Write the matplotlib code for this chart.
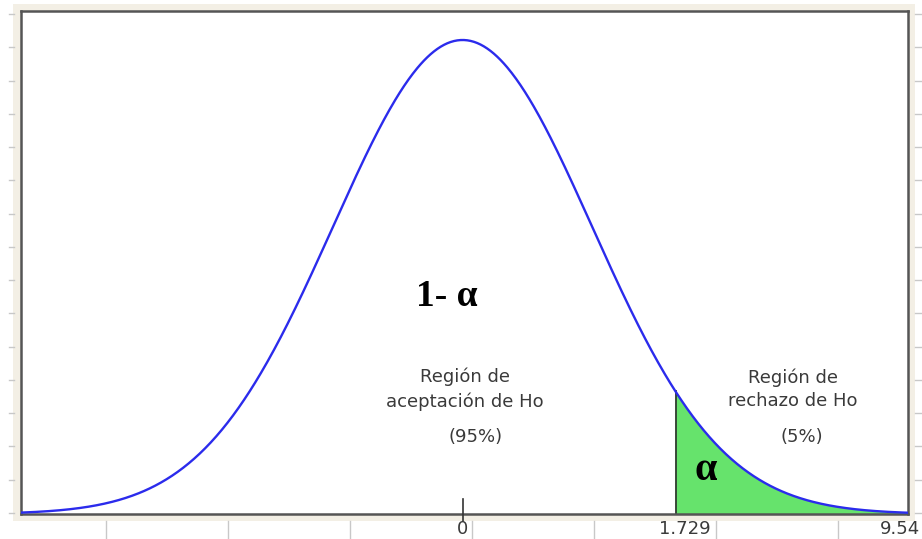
import numpy as np
import matplotlib
matplotlib.use("Agg")
import matplotlib.pyplot as plt
from matplotlib.patches import Rectangle
from matplotlib.lines import Line2D

# ---- data ----
dist_mean = 0.0
dist_sd = 1.0
critical_z = 1.645          # upper 5% point (drawn position of the critical line)
x_range = [-3.41, 3.44]
axis_labels = ["0", "1.729", "9.54"]
region_labels = ["Región de\naceptación de Ho", "(95%)", "Región de\nrechazo de Ho", "(5%)"]
big_labels = ["1- α", "α"]

W, H = 922, 539
fig = plt.figure(figsize=(W / 100, H / 100), dpi=100)
fig.patch.set_facecolor("white")

def fx(px):
    return px / W

def fy(py):
    return 1 - py / H

# beige panel behind plot
fig.add_artist(Rectangle((fx(13), fy(521)), (915 - 13) / W, (521 - 4) / H,
                         transform=fig.transFigure, facecolor="#f3efe5",
                         edgecolor="none", zorder=0))

ax = fig.add_axes([fx(21), fy(514), (908 - 21) / W, (514 - 11) / H])
ax.set_facecolor("white")

x = np.linspace(x_range[0], x_range[1], 800)
pdf = np.exp(-0.5 * ((x - dist_mean) / dist_sd) ** 2) / (dist_sd * np.sqrt(2 * np.pi))
peak = 1 / (dist_sd * np.sqrt(2 * np.pi))

mask = x >= critical_z
ax.fill_between(x[mask], 0, pdf[mask], color="#66e36c", linewidth=0, zorder=1)
ycrit = np.exp(-0.5 * ((critical_z - dist_mean) / dist_sd) ** 2) / (dist_sd * np.sqrt(2 * np.pi))
ax.plot([critical_z, critical_z], [0, ycrit], color="#2a3a2a", lw=1.3, zorder=2)
ax.plot(x, pdf, color="#2b2bec", lw=1.7, zorder=3)

ax.set_xlim(x_range)
ax.set_ylim(0, peak * 503 / 474)
ax.set_xticks([])
ax.set_yticks([])
for s in ax.spines.values():
    s.set_color("#555555")
    s.set_linewidth(1.8)

# small mark at 0 on the axis
ax.plot([dist_mean, dist_mean], [-0.006, 0.013], color="#333333", lw=1.2,
        clip_on=False, zorder=4)

# text
reg_kw = dict(ha="center", va="center", fontsize=13, color="#3a3a3a",
              family="DejaVu Sans", linespacing=1.42)
ax.text(0.015, 0.105, region_labels[0], **reg_kw)
ax.text(0.10, 0.0648, region_labels[1], **reg_kw)
ax.text(2.55, 0.105, region_labels[2], **reg_kw)
ax.text(2.62, 0.0648, region_labels[3], **reg_kw)

big_kw = dict(ha="center", va="center", fontsize=27, color="black",
              family="Liberation Serif", fontweight="bold")
ax.text(-0.12, 0.183, big_labels[0], **big_kw)
ax.text(1.876, 0.037, big_labels[1], **{**big_kw, "fontsize": 29})

# outer decorative ticks
for px in [106, 228, 350, 472, 594, 716, 838]:
    fig.add_artist(Line2D([fx(px), fx(px)], [fy(521), fy(539)],
                          transform=fig.transFigure, color="#c8c8c8", lw=1))
for py in np.linspace(14, 513, 16):
    fig.add_artist(Line2D([fx(9), fx(14)], [fy(py), fy(py)],
                          transform=fig.transFigure, color="#c8c8c8", lw=1))
    fig.add_artist(Line2D([fx(915), fx(922)], [fy(py), fy(py)],
                          transform=fig.transFigure, color="#c8c8c8", lw=1))

lab_kw = dict(ha="center", va="center", fontsize=13, color="#3a3a3a", family="DejaVu Sans")
fig.text(fx(462), fy(529), axis_labels[0], **lab_kw)
fig.text(fx(685), fy(529), axis_labels[1], **lab_kw)
fig.text(fx(900), fy(529), axis_labels[2], **lab_kw)

fig.savefig("out.png", dpi=100, facecolor="white")
